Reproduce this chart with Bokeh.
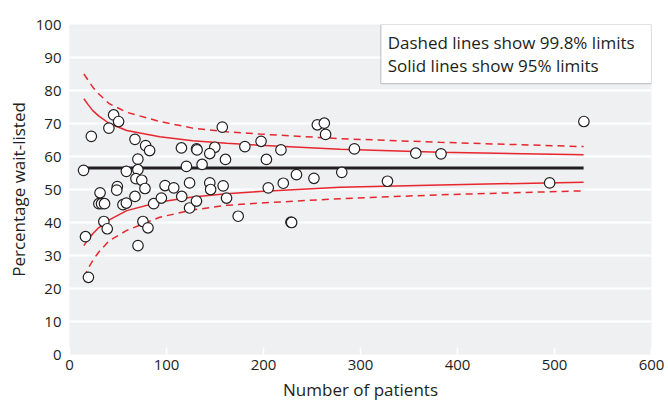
from bokeh.plotting import figure
from bokeh.models import Range1d, FixedTicker, BoxAnnotation, Label
from bokeh.embed import file_html
from bokeh.resources import INLINE

# Data: number of patients and percentage wait-listed per unit
patients = [14.5, 16.5, 19.5, 22.5, 45.5, 50.6, 40.6, 67.5, 78.5, 82.6,
            70.5, 70.5, 58.6, 68.5, 74.5, 77.8, 49.3, 48.7, 31.5, 30.3,
            33.0, 36.1, 55.1, 58.6, 67.5, 35.4, 38.9, 70.6, 75.7, 80.9,
            86.8, 94.7, 98.5, 107.5, 115.7, 123.8, 123.8, 130.9, 144.6, 145.5,
            158.4, 161.9, 173.9, 115.4, 131.0, 131.5, 149.8, 144.6, 157.5, 160.8,
            180.8, 197.5, 120.5, 136.7, 203.0, 218.0, 255.5, 262.7, 264.0, 293.7,
            357.0, 383.0, 204.9, 220.4, 234.0, 252.0, 280.7, 327.8, 228.3, 229.0,
            530.3, 495.0]
pct_waitlisted = [55.8, 35.7, 23.4, 66.1, 72.6, 70.6, 68.6, 65.2, 63.3, 61.8,
                  59.2, 56.0, 55.5, 53.3, 52.8, 50.3, 50.9, 49.8, 49.0, 45.7,
                  45.7, 45.7, 45.4, 45.9, 47.9, 40.3, 38.1, 33.0, 40.3, 38.4,
                  45.7, 47.4, 51.2, 50.5, 47.9, 52.0, 44.4, 46.5, 52.0, 50.0,
                  51.1, 47.4, 41.9, 62.6, 62.3, 62.0, 62.8, 60.9, 68.9, 59.1,
                  63.0, 64.6, 57.0, 57.6, 59.1, 62.0, 69.6, 70.1, 66.7, 62.3,
                  61.0, 60.8, 50.5, 51.9, 54.5, 53.4, 55.2, 52.5, 40.1, 40.0,
                  70.6, 52.0]

# Overall mean and control limits
mean_n = [14.5, 530]
mean_pct = [56.5, 56.5]

limit_n = [14.8, 19, 24, 30, 41, 59, 93, 127, 162, 196, 279, 382, 530]
upper_95 = [77.5, 75.8, 73.9, 72.3, 70.0, 67.9, 66.0, 64.8, 64.0, 63.4, 62.2, 61.3, 60.5]
lower_95 = [33.0, 34.8, 36.6, 38.4, 40.8, 43.6, 46.2, 47.7, 48.7, 49.4, 50.7, 51.4, 52.2]
upper_998 = [85.0, 83.2, 81.0, 79.0, 76.0, 73.4, 70.6, 68.6, 67.5, 66.8, 65.4, 64.3, 63.0]
lower_998 = [23.4, 26.0, 28.5, 31.0, 34.5, 37.6, 41.6, 43.8, 45.2, 45.9, 47.2, 48.4, 49.6]

x_ticks = [0, 100, 200, 300, 400, 500, 600]
y_ticks = [0, 10, 20, 30, 40, 50, 60, 70, 80, 90, 100]

FONT = "Open Sans"
TXT = "#231f20"
RED = "#e8262d"

p = figure(width=668, height=406, output_backend="svg", toolbar_location=None,
           x_range=Range1d(0, 600), y_range=Range1d(0, 100),
           min_border_left=69, min_border_right=17, min_border_top=24, min_border_bottom=52)
p.background_fill_color = "#eff0f2"
p.border_fill_color = "white"
p.outline_line_color = None

p.xgrid.grid_line_color = None
p.ygrid.grid_line_color = "white"
p.ygrid.grid_line_width = 2
p.ygrid.ticker = FixedTicker(ticks=y_ticks)

p.xaxis.ticker = FixedTicker(ticks=x_ticks)
p.yaxis.ticker = FixedTicker(ticks=y_ticks)
for ax in (p.xaxis[0], p.yaxis[0]):
    ax.axis_line_color = None
    ax.minor_tick_line_color = None
    ax.minor_tick_in = 0
    ax.minor_tick_out = 0
    ax.major_label_text_font = FONT
    ax.major_label_text_font_size = "15px"
    ax.major_label_text_color = TXT
    ax.axis_label_text_font = FONT
    ax.axis_label_text_font_size = "17px"
    ax.axis_label_text_font_style = "normal"
    ax.axis_label_text_color = TXT
p.xaxis.major_tick_in = 7
p.xaxis.major_tick_out = 0
p.xaxis.major_tick_line_color = "white"
p.xaxis.major_tick_line_width = 1.5
p.yaxis.major_tick_line_color = None
p.yaxis.major_tick_in = 0
p.yaxis.major_tick_out = 0
p.xaxis.major_label_standoff = 5
p.yaxis.major_label_standoff = 8
p.xaxis.axis_label = "Number of patients"
p.yaxis.axis_label = "Percentage wait-listed"
p.xaxis.axis_label_standoff = 5
p.yaxis.axis_label_standoff = 3

# limits
p.line(limit_n, upper_998, line_color=RED, line_width=1.5, line_dash="7 5")
p.line(limit_n, lower_998, line_color=RED, line_width=1.5, line_dash="7 5")
p.line(limit_n, upper_95, line_color=RED, line_width=1.5)
p.line(limit_n, lower_95, line_color=RED, line_width=1.5)
p.line(mean_n, mean_pct, line_color=TXT, line_width=3)

p.scatter(patients, pct_waitlisted, size=10.5, fill_color="white", line_color=TXT, line_width=1.2)

# explanatory box
box = BoxAnnotation(left=321, right=600, top=100, bottom=82.1,
                    fill_color="white", fill_alpha=1.0, line_color="#555555", line_width=1.2)
p.add_layout(box)
for yv, t in ((91.2, "Dashed lines show 99.8% limits"), (84.2, "Solid lines show 95% limits")):
    p.add_layout(Label(x=328, y=yv, text=t, text_font=FONT, text_font_size="17px",
                       text_color=TXT))

open("out.html", "w").write(file_html(p, INLINE))
